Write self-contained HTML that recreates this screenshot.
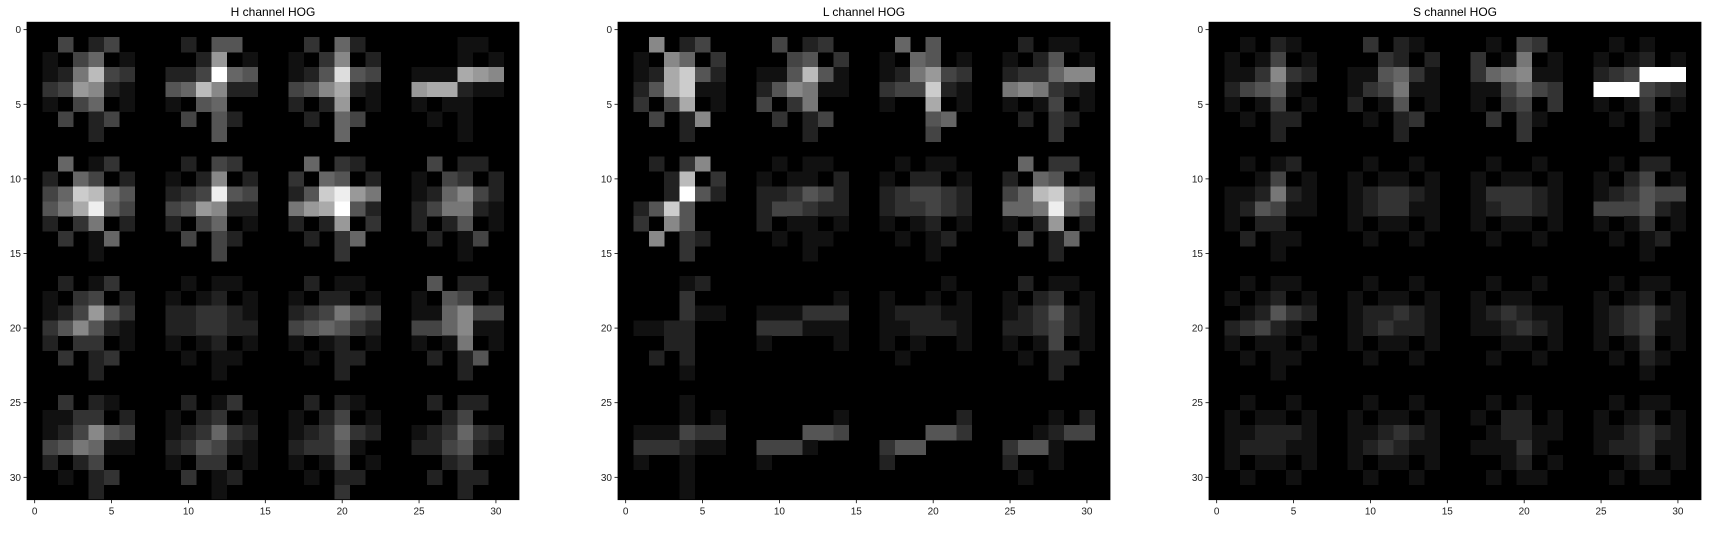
<!DOCTYPE html>
<html><head><meta charset="utf-8"><style>
html,body{margin:0;padding:0;background:#fff;}
svg{display:block;font-family:"Liberation Sans","DejaVu Sans",sans-serif;}
</style></head><body>
<svg id="fig" width="1711" height="539" viewBox="0 0 1711 539" xmlns="http://www.w3.org/2000/svg"></svg>
<script>
const titles = ["H channel HOG", "L channel HOG", "S channel HOG"];
const xTicks = [0, 5, 10, 15, 20, 25, 30];
const yTicks = [0, 5, 10, 15, 20, 25, 30];
const Z = "00000000000000000000000000000000";
const hData = [Z,
"00402400002055000030620000001100","01046010000290100103802000001010","0127b4300224f6500125d5400111a980","03498210056b82200458a21009aa2110","01046010010560000202901001011000","00402400004052000020640000101000","00002000000050000000600000001000",Z,
"00601300002043000060320000402200","02064020010280200306502001043020","046cb7500234e540025ce97001268420","057ae64004598220079af52002477210","02037020020460100202903002025010","00301600004042000020360000201400","00001000000040000000300000001000",Z,
"00201300001011000020110000502200","01034020010120100102201001054010","01249530022332100234754001168440","03585210022332200456532004468110","02033010010120100101201001017010","00302300001011000010220000202500","00002000000010000000200000002000",Z,
"00302100002013000020210000202200","01133020010230100102401000024000","01248540012363200123632001236320","04576110023542100233510002245210","02024000010330100101401000023000","00102300003012000010220000202200","00002000000010000000300000002000"];
const lData = [Z,
"00802400004023000060500000201100","01086030000450300106501001025010","012ac5200115b5100127943002336880","025ac110025871100344c21007873210","0304a010040370000100a01001014010","00402800003024000000560000203200","00002000000020000000400000003000",Z,
"00203800001011000010110000603300","0002b030010110200102201002065010","0002f5200223542002344320046bc760","025c500002443220023343200667e640","03085000020110100101201001029020","00803200001011000010120000402600","00003000000010000000100000002000",Z,
"00001200000000000000010000201100","00003000000000100100101001023010","00003110011133300122211001235210","01122000033311100112221002234210","00022000010000100101001001014010","00202000000000000010000000102200","00001000000000000000000000002000",Z,
"00001000000000000000000000000000","00001010000000100000002000001020","01114330000055400000553000012440","03332110044410000355000003551000","01001000010000000200000002001000","00001000000000000000000000100000","00001000000000000000000000000000"];
const sData = [Z,
"00102100003021000010430000101000","01014010000320200301701001012010","0113832001156310036781100234fff0","0245610001347110011464300fff4320","01014010020150100103403001013010","00102200001023000030310000102100","00002000000020000000300000002000",Z,
"00101200001001000010010000102200","00014010010110100101101001024010","01127210012332100133321001235440","01254110012331100123321004445210","01022000010110100101101001013010","00201100001001000010010000101200","00001000000000000000000000001000",Z,
"00101100001001000010010000101100","01012010010110100101100001012010","00125320012232100123211001234210","02342100012322100112321001234110","01011010010110100001101001013010","00101100001001000010010000102100","00001000000000000000000000001000",Z,
"00100100001001000010100000101100","01011010010110100102201001012010","01122210011232100012211001123210","01222110012321100111310001223110","01011010010110100001201000012010","00100100001001000010110000101100",Z];
const panelData = [hData, lData, sData];
const NS = "http://www.w3.org/2000/svg";
const svg = document.getElementById("fig");
const lefts = [27, 618, 1209];
const W = 492, TOP = 22.2, H = 477.5, N = 32;
function mk(tag, attrs, parent) {
  const e = document.createElementNS(NS, tag);
  for (const k in attrs) e.setAttribute(k, attrs[k]);
  parent.appendChild(e); return e;
}
const sx = (L, v) => L + (v + 0.5) * W / N;
const sy = v => TOP + (v + 0.5) * H / N;
panelData.forEach((data, p) => {
  const L = lefts[p];
  const g = mk("g", {}, svg);
  
  
  const t = mk("text", {x: L + W / 2, y: 16, "text-anchor": "middle", "font-size": 12, fill: "#000"}, g);
  t.textContent = titles[p];
  
  
  const bg = mk("rect", {x: L, y: TOP, width: W, height: H, fill: "#000"}, g);
  
  
  const cells = mk("g", {"shape-rendering": "crispEdges"}, g);
  
  
  for (let r = 0; r < N; r++) {
    const row = data[r] || Z;
    for (let c = 0; c < N; c++) {
      const v = parseInt(row[c] || "0", 16);
      if (!v) continue;
      const x0 = sx(L, c - 0.5), x1 = sx(L, c + 0.5);
      const y0 = sy(r - 0.5), y1 = sy(r + 0.5);
      const gv = v * 17;
      const rc = mk("rect", {x: x0, y: y0, width: x1 - x0 + 0.3, height: y1 - y0 + 0.3, fill: `rgb(${gv},${gv},${gv})`}, cells);
      
      
    }
  }
  xTicks.forEach(v => {
    const x = sx(L, v);
    mk("line", {x1: x, x2: x, y1: TOP + H, y2: TOP + H + 3.5, stroke: "#000", "stroke-width": 0.8}, g);
    const tx = mk("text", {x: x, y: TOP + H + 15, "text-anchor": "middle", "font-size": 10, fill: "#222"}, g);
    tx.textContent = v;
    
    
  });
  yTicks.forEach(v => {
    const y = sy(v);
    mk("line", {x1: L - 3.5, x2: L, y1: y, y2: y, stroke: "#000", "stroke-width": 0.8}, g);
    const ty = mk("text", {x: L - 6, y: y + 3.5, "text-anchor": "end", "font-size": 10, fill: "#222"}, g);
    ty.textContent = v;
    
    
  });
  const fr = mk("rect", {x: L, y: TOP, width: W, height: H, fill: "none", stroke: "#000", "stroke-width": 0.8}, g);
  
  
});
</script>
</body></html>
